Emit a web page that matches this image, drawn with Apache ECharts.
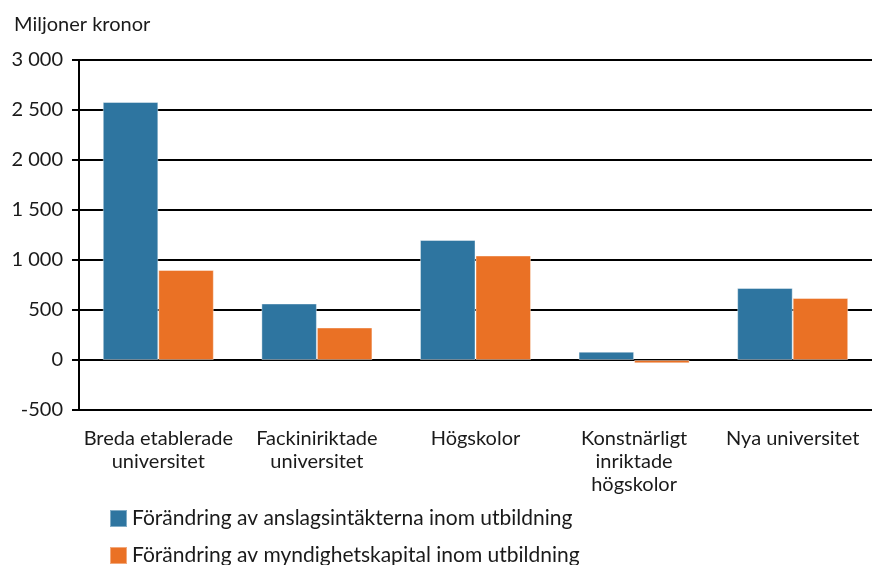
<!DOCTYPE html>
<html lang="sv">

<head>
    <meta charset="UTF-8">
    <title>Förändring av anslagsintäkter och myndighetskapital</title>
    <script src="https://cdn.jsdelivr.net/npm/echarts@6/dist/echarts.min.js"></script>
    <style>
        html, body { margin: 0; padding: 0; background: #fff; }
        #main { width: 874px; height: 565px; }
    </style>
</head>

<body>
    <div id="main"></div>
    <script>
        var categories = ['Breda etablerade\nuniversitet', 'Fackiniriktade\nuniversitet', 'Högskolor', 'Konstnärligt\ninriktade\nhögskolor', 'Nya universitet'];
        var anslag = [2580, 565, 1200, 83, 720];
        var kapital = [900, 325, 1045, -33, 620];
        var seriesNames = ['Förändring av anslagsintäkterna inom utbildning', 'Förändring av myndighetskapital inom utbildning'];

        var font = 'Lato, "Open Sans", sans-serif';
        var fs = 20;
        var chart = echarts.init(document.getElementById('main'));

        // one legend per row, stacked like the original
        var legendRow = function (name, top) {
            return {
                left: 104,
                top: top,
                itemWidth: 17,
                itemHeight: 17,
                itemGap: 10,
                icon: 'rect',
                textStyle: { fontFamily: font, fontSize: 21, color: '#1a1a1a' },
                data: [name]
            };
        };

        chart.setOption({
            animation: false,
            backgroundColor: '#fff',
            textStyle: { fontFamily: font, color: '#1a1a1a' },
            title: {
                text: 'Miljoner kronor',
                left: 9,
                top: 10,
                textStyle: { fontFamily: font, fontSize: fs, fontWeight: 'normal', color: '#1a1a1a' }
            },
            legend: [legendRow(seriesNames[0], 503), legendRow(seriesNames[1], 540)],
            grid: { left: 79, right: 2, top: 60, bottom: 155, containLabel: false },
            xAxis: {
                type: 'category',
                data: categories,
                axisLine: { show: false },
                axisTick: { show: false },
                axisLabel: {
                    interval: 0,
                    margin: 17,
                    fontFamily: font,
                    fontSize: fs,
                    lineHeight: 23,
                    color: '#1a1a1a'
                }
            },
            yAxis: {
                type: 'value',
                min: -500,
                max: 3000,
                interval: 500,
                axisLine: { show: true, lineStyle: { color: '#000', width: 2 } },
                axisTick: { show: true, length: 7, lineStyle: { color: '#000', width: 2 } },
                splitLine: { show: true, lineStyle: { color: '#000', width: 2 } },
                axisLabel: {
                    margin: 16,
                    fontFamily: font,
                    fontSize: fs,
                    color: '#1a1a1a',
                    formatter: function (v) {
                        var s = String(Math.abs(v)).replace(/\B(?=(\d{3})+(?!\d))/g, ' ');
                        return (v < 0 ? '-' : '') + s;
                    }
                }
            },
            series: [{
                name: seriesNames[0],
                type: 'bar',
                data: anslag,
                barGap: '0%',
                barCategoryGap: '30%',
                itemStyle: { color: '#2E75A0', borderColor: 'rgba(255,255,255,0.4)', borderWidth: 1 }
            }, {
                name: seriesNames[1],
                type: 'bar',
                data: kapital,
                itemStyle: { color: '#EA7125', borderColor: 'rgba(255,255,255,0.4)', borderWidth: 1 }
            }]
        });
    </script>
</body>

</html>
